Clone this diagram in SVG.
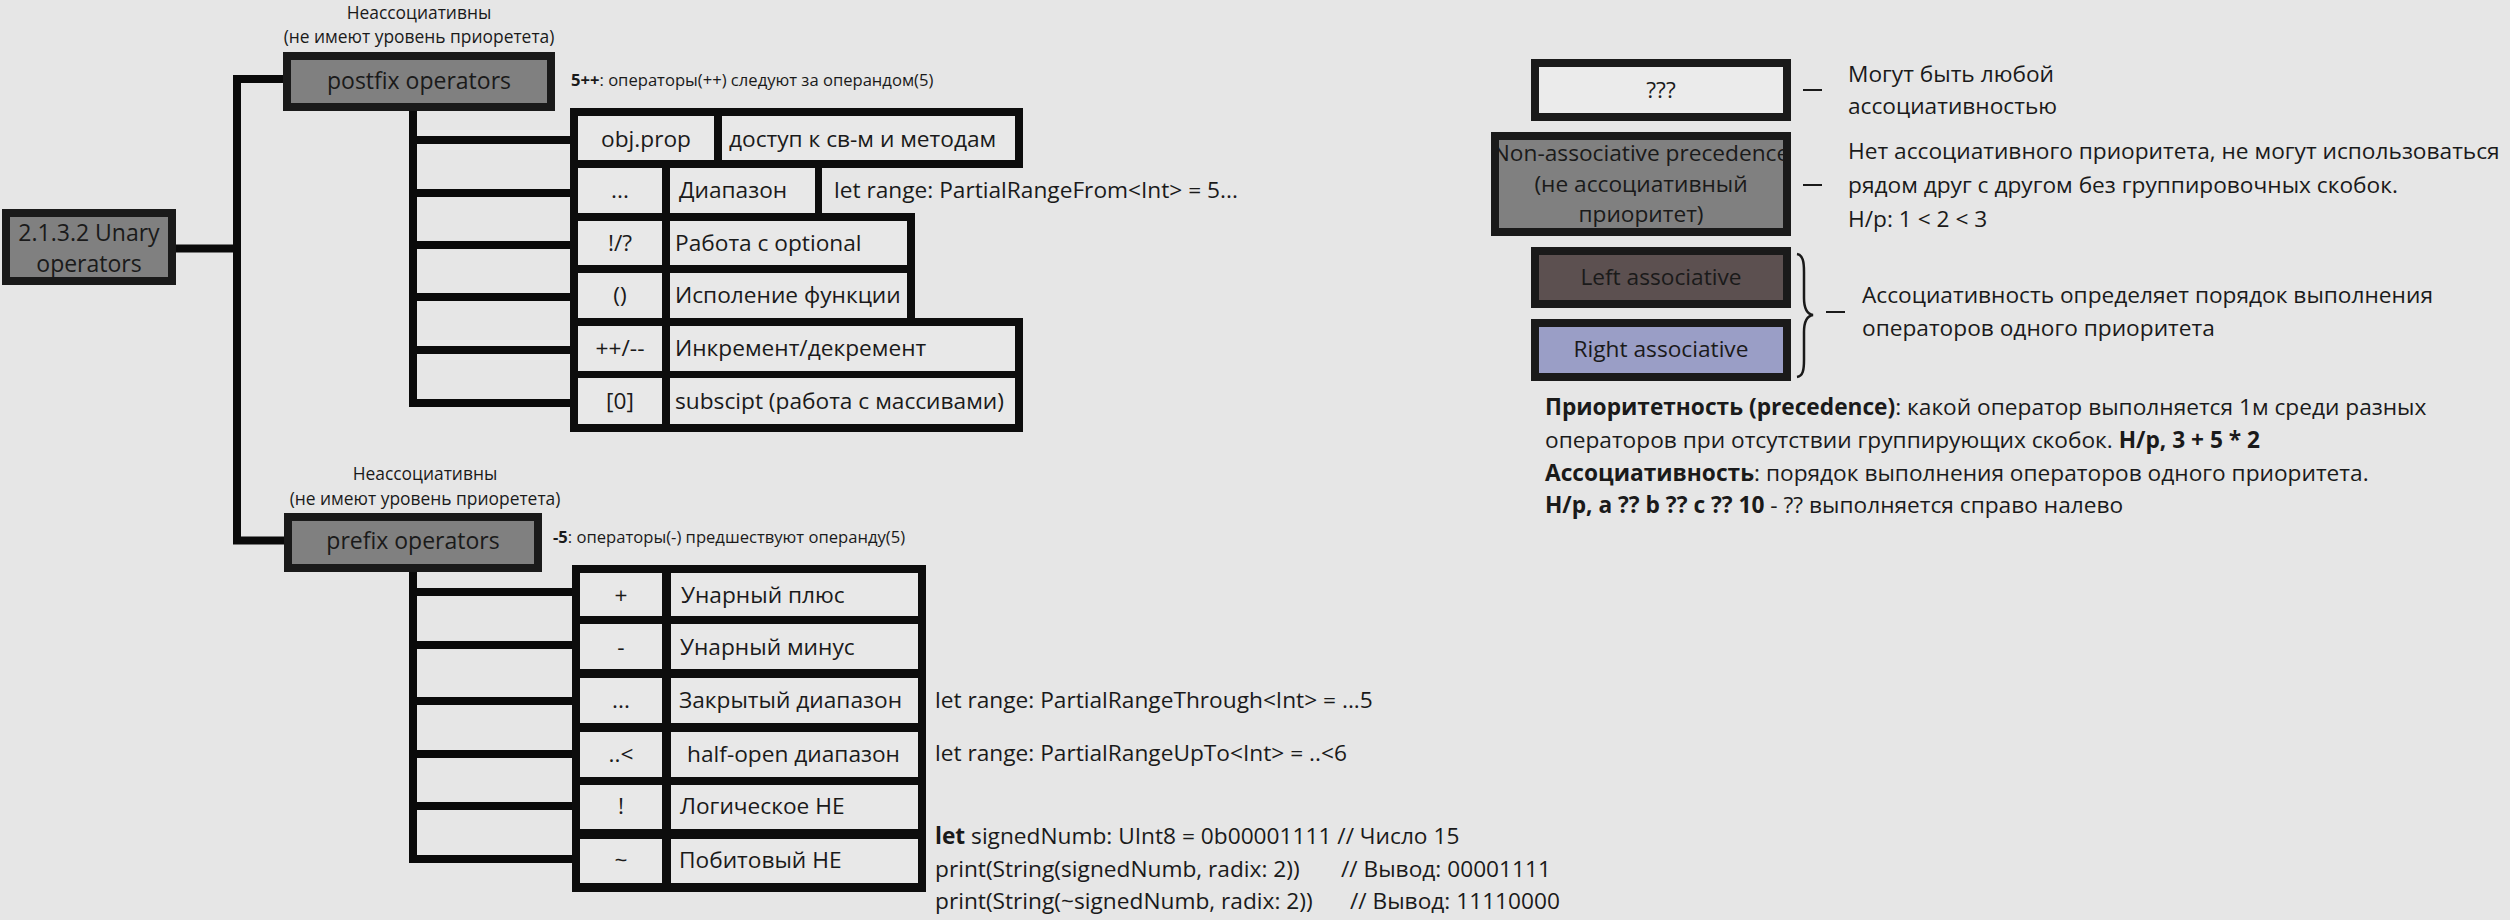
<svg xmlns="http://www.w3.org/2000/svg" width="2510" height="920" viewBox="0 0 2510 920">
<style>
text{font-family:"Open Sans","Noto Sans","DejaVu Sans",sans-serif;fill:#1a1a1a}
.node{fill:#808080;stroke:#1a1a1a;stroke-width:8}
.t23{font-size:23px}
.t22{font-size:22.7px}
.t16{font-size:16.6px}
.t17{font-size:17.4px}
.c{text-anchor:middle}
.b{font-weight:bold}
.blk{fill:#0d0d0d}
.cell{fill:#e8e8e8}
.con{fill:none;stroke:#0a0a0a;stroke-width:8}
.dash{stroke:#1a1a1a;stroke-width:2}
</style>
<rect x="0" y="0" width="2510" height="920" fill="#e6e6e6"/>
<g id="connectors">
<path class="con" d="M172,248.5H237M287,79H237V540.5H288"/>
<path class="con" d="M413,107V407M413,140H572M413,193H572M413,245H572M413,297H572M413,350H572M413,403H572"/>
<path class="con" d="M413,568V863M413,592H574M413,645H574M413,701H574M413,754H574M413,806H574M413,859H574"/>
<line class="dash" x1="1803" y1="90" x2="1822" y2="90"/>
<line class="dash" x1="1803" y1="185" x2="1822" y2="185"/>
<line class="dash" x1="1826" y1="312" x2="1845" y2="312"/>
<path d="M1797,254C1803,255 1804,262 1804,272L1804,298C1804,308 1807,314 1813,315C1807,316 1804,322 1804,332L1804,360C1804,370 1803,376 1797,377" fill="none" stroke="#1a1a1a" stroke-width="2.5"/>
</g>
<g id="root">
<rect class="node" x="6" y="213" width="166" height="68"/>
<text class="t23 c" x="89" y="241">2.1.3.2 Unary</text>
<text class="t23 c" x="89" y="272">operators</text>
</g>
<g id="postfix">
<text class="t17 c" x="419" y="19">Неассоциативны</text>
<text class="t17 c" x="419" y="43">(не имеют уровень приоретета)</text>
<rect class="node" x="287" y="56" width="264" height="51"/>
<text class="t23 c" x="419" y="89">postfix operators</text>
<text class="t16" x="571" y="86"><tspan class="b">5++</tspan>: операторы(++) следуют за операндом(5)</text>
</g>
<g id="postfix-table">
<rect class="blk" x="570" y="108" width="453" height="60"/>
<rect class="blk" x="570" y="160" width="252" height="61"/>
<rect class="blk" x="570" y="213" width="345" height="60"/>
<rect class="blk" x="570" y="265" width="345" height="61"/>
<rect class="blk" x="570" y="318" width="453" height="61"/>
<rect class="blk" x="570" y="370" width="453" height="62"/>
<rect class="cell" x="578" y="116" width="136" height="44"/>
<rect class="cell" x="722" y="116" width="293" height="44"/>
<rect class="cell" x="578" y="168" width="84" height="45"/>
<rect class="cell" x="670" y="168" width="145" height="45"/>
<rect class="cell" x="578" y="221" width="84" height="44"/>
<rect class="cell" x="670" y="221" width="237" height="44"/>
<rect class="cell" x="578" y="273" width="84" height="45"/>
<rect class="cell" x="670" y="273" width="237" height="45"/>
<rect class="cell" x="578" y="326" width="84" height="45"/>
<rect class="cell" x="670" y="326" width="345" height="45"/>
<rect class="cell" x="578" y="378" width="84" height="46"/>
<rect class="cell" x="670" y="378" width="345" height="46"/>
<text class="t22 c" x="646" y="147">obj.prop</text>
<text class="t22" x="729" y="147">доступ к св-м и методам</text>
<text class="t22 c" x="620" y="198">...</text>
<text class="t22" x="679" y="198">Диапазон</text>
<text class="t22" x="834" y="198">let range: PartialRangeFrom&lt;Int&gt; = 5...</text>
<text class="t22 c" x="620" y="251">!/?</text>
<text class="t22" x="675" y="251">Работа с optional</text>
<text class="t22 c" x="620" y="303">()</text>
<text class="t22" x="675" y="303">Исполение функции</text>
<text class="t22 c" x="620" y="356">++/--</text>
<text class="t22" x="675" y="356">Инкремент/декремент</text>
<text class="t22 c" x="620" y="409">[0]</text>
<text class="t22" x="675" y="409">subscipt (работа с массивами)</text>
</g>
<g id="prefix">
<text class="t17 c" x="425" y="480">Неассоциативны</text>
<text class="t17 c" x="425" y="505">(не имеют уровень приоретета)</text>
<rect class="node" x="288" y="517" width="250" height="51"/>
<text class="t23 c" x="413" y="549">prefix operators</text>
<text class="t16" x="553" y="543"><tspan class="b">-5</tspan>: операторы(-) предшествуют операнду(5)</text>
</g>
<g id="prefix-table">
<rect class="blk" x="572" y="565" width="354" height="327"/>
<rect class="cell" x="580" y="573" width="82" height="43"/>
<rect class="cell" x="671" y="573" width="247" height="43"/>
<rect class="cell" x="580" y="624" width="82" height="45"/>
<rect class="cell" x="671" y="624" width="247" height="45"/>
<rect class="cell" x="580" y="678" width="82" height="45"/>
<rect class="cell" x="671" y="678" width="247" height="45"/>
<rect class="cell" x="580" y="732" width="82" height="45"/>
<rect class="cell" x="671" y="732" width="247" height="45"/>
<rect class="cell" x="580" y="785" width="82" height="44"/>
<rect class="cell" x="671" y="785" width="247" height="44"/>
<rect class="cell" x="580" y="839" width="82" height="44"/>
<rect class="cell" x="671" y="839" width="247" height="44"/>
<text class="t22 c" x="621" y="603">+</text>
<text class="t22" x="681" y="603">Унарный плюс</text>
<text class="t22 c" x="621" y="655">-</text>
<text class="t22" x="680" y="655">Унарный минус</text>
<text class="t22 c" x="621" y="708">...</text>
<text class="t22" x="679" y="708">Закрытый диапазон</text>
<text class="t22 c" x="621" y="762">..&lt;</text>
<text class="t22" x="687" y="762">half-open диапазон</text>
<text class="t22 c" x="621" y="814">!</text>
<text class="t22" x="680" y="814">Логическое НЕ</text>
<text class="t22 c" x="621" y="868">~</text>
<text class="t22" x="679" y="868">Побитовый НЕ</text>
<text class="t22" x="935" y="708">let range: PartialRangeThrough&lt;Int&gt; = ...5</text>
<text class="t22" x="935" y="761">let range: PartialRangeUpTo&lt;Int&gt; = ..&lt;6</text>
<text class="t22" x="935" y="844"><tspan class="b">let</tspan> signedNumb: UInt8 = 0b00001111 // Число 15</text>
<text class="t22" x="935" y="877">print(String(signedNumb, radix: 2))<tspan x="1341">// Вывод: 00001111</tspan></text>
<text class="t22" x="935" y="909">print(String(~signedNumb, radix: 2))<tspan x="1350">// Вывод: 11110000</tspan></text>
</g>
<g id="legend-any">
<rect x="1535" y="63" width="252" height="54" fill="#ebebeb" stroke="#1a1a1a" stroke-width="8"/>
<text class="t22 c" x="1661" y="98">???</text>
<text class="t22" x="1848" y="82">Могут быть любой</text>
<text class="t22" x="1848" y="114">ассоциативностью</text>
</g>
<g id="legend-nonassoc">
<rect class="node" x="1495" y="136" width="292" height="96"/>
<text class="t22 c" x="1641" y="161">Non-associative precedence</text>
<text class="t22 c" x="1641" y="192">(не ассоциативный</text>
<text class="t22 c" x="1641" y="222">приоритет)</text>
<text class="t22" x="1848" y="159">Нет ассоциативного приоритета, не могут использоваться</text>
<text class="t22" x="1848" y="193">рядом друг с другом без группировочных скобок.</text>
<text class="t22" x="1848" y="227">Н/р: 1 &lt; 2 &lt; 3</text>
</g>
<g id="legend-left">
<rect x="1535" y="251" width="252" height="53" fill="#5c5050" stroke="#1a1a1a" stroke-width="8"/>
<text class="t22 c" x="1661" y="285">Left associative</text>
</g>
<g id="legend-right">
<rect x="1535" y="323" width="252" height="54" fill="#9a9ec6" stroke="#1a1a1a" stroke-width="8"/>
<text class="t22 c" x="1661" y="357">Right associative</text>
</g>
<g id="legend-assoc-note">
<text class="t22" x="1862" y="303">Ассоциативность определяет порядок выполнения</text>
<text class="t22" x="1862" y="336">операторов одного приоритета</text>
</g>
<g id="definitions">
<text class="t22" x="1545" y="415"><tspan class="b">Приоритетность (precedence)</tspan>: какой оператор выполняется 1м среди разных</text>
<text class="t22" x="1545" y="448">операторов при отсутствии группирующих скобок. <tspan class="b">Н/р, 3 + 5 * 2</tspan></text>
<text class="t22" x="1545" y="481"><tspan class="b">Ассоциативность</tspan>: порядок выполнения операторов одного приоритета.</text>
<text class="t22" x="1545" y="513"><tspan class="b">Н/р, a ?? b ?? c ?? 10</tspan> - ?? выполняется справо налево</text>
</g>
</svg>
